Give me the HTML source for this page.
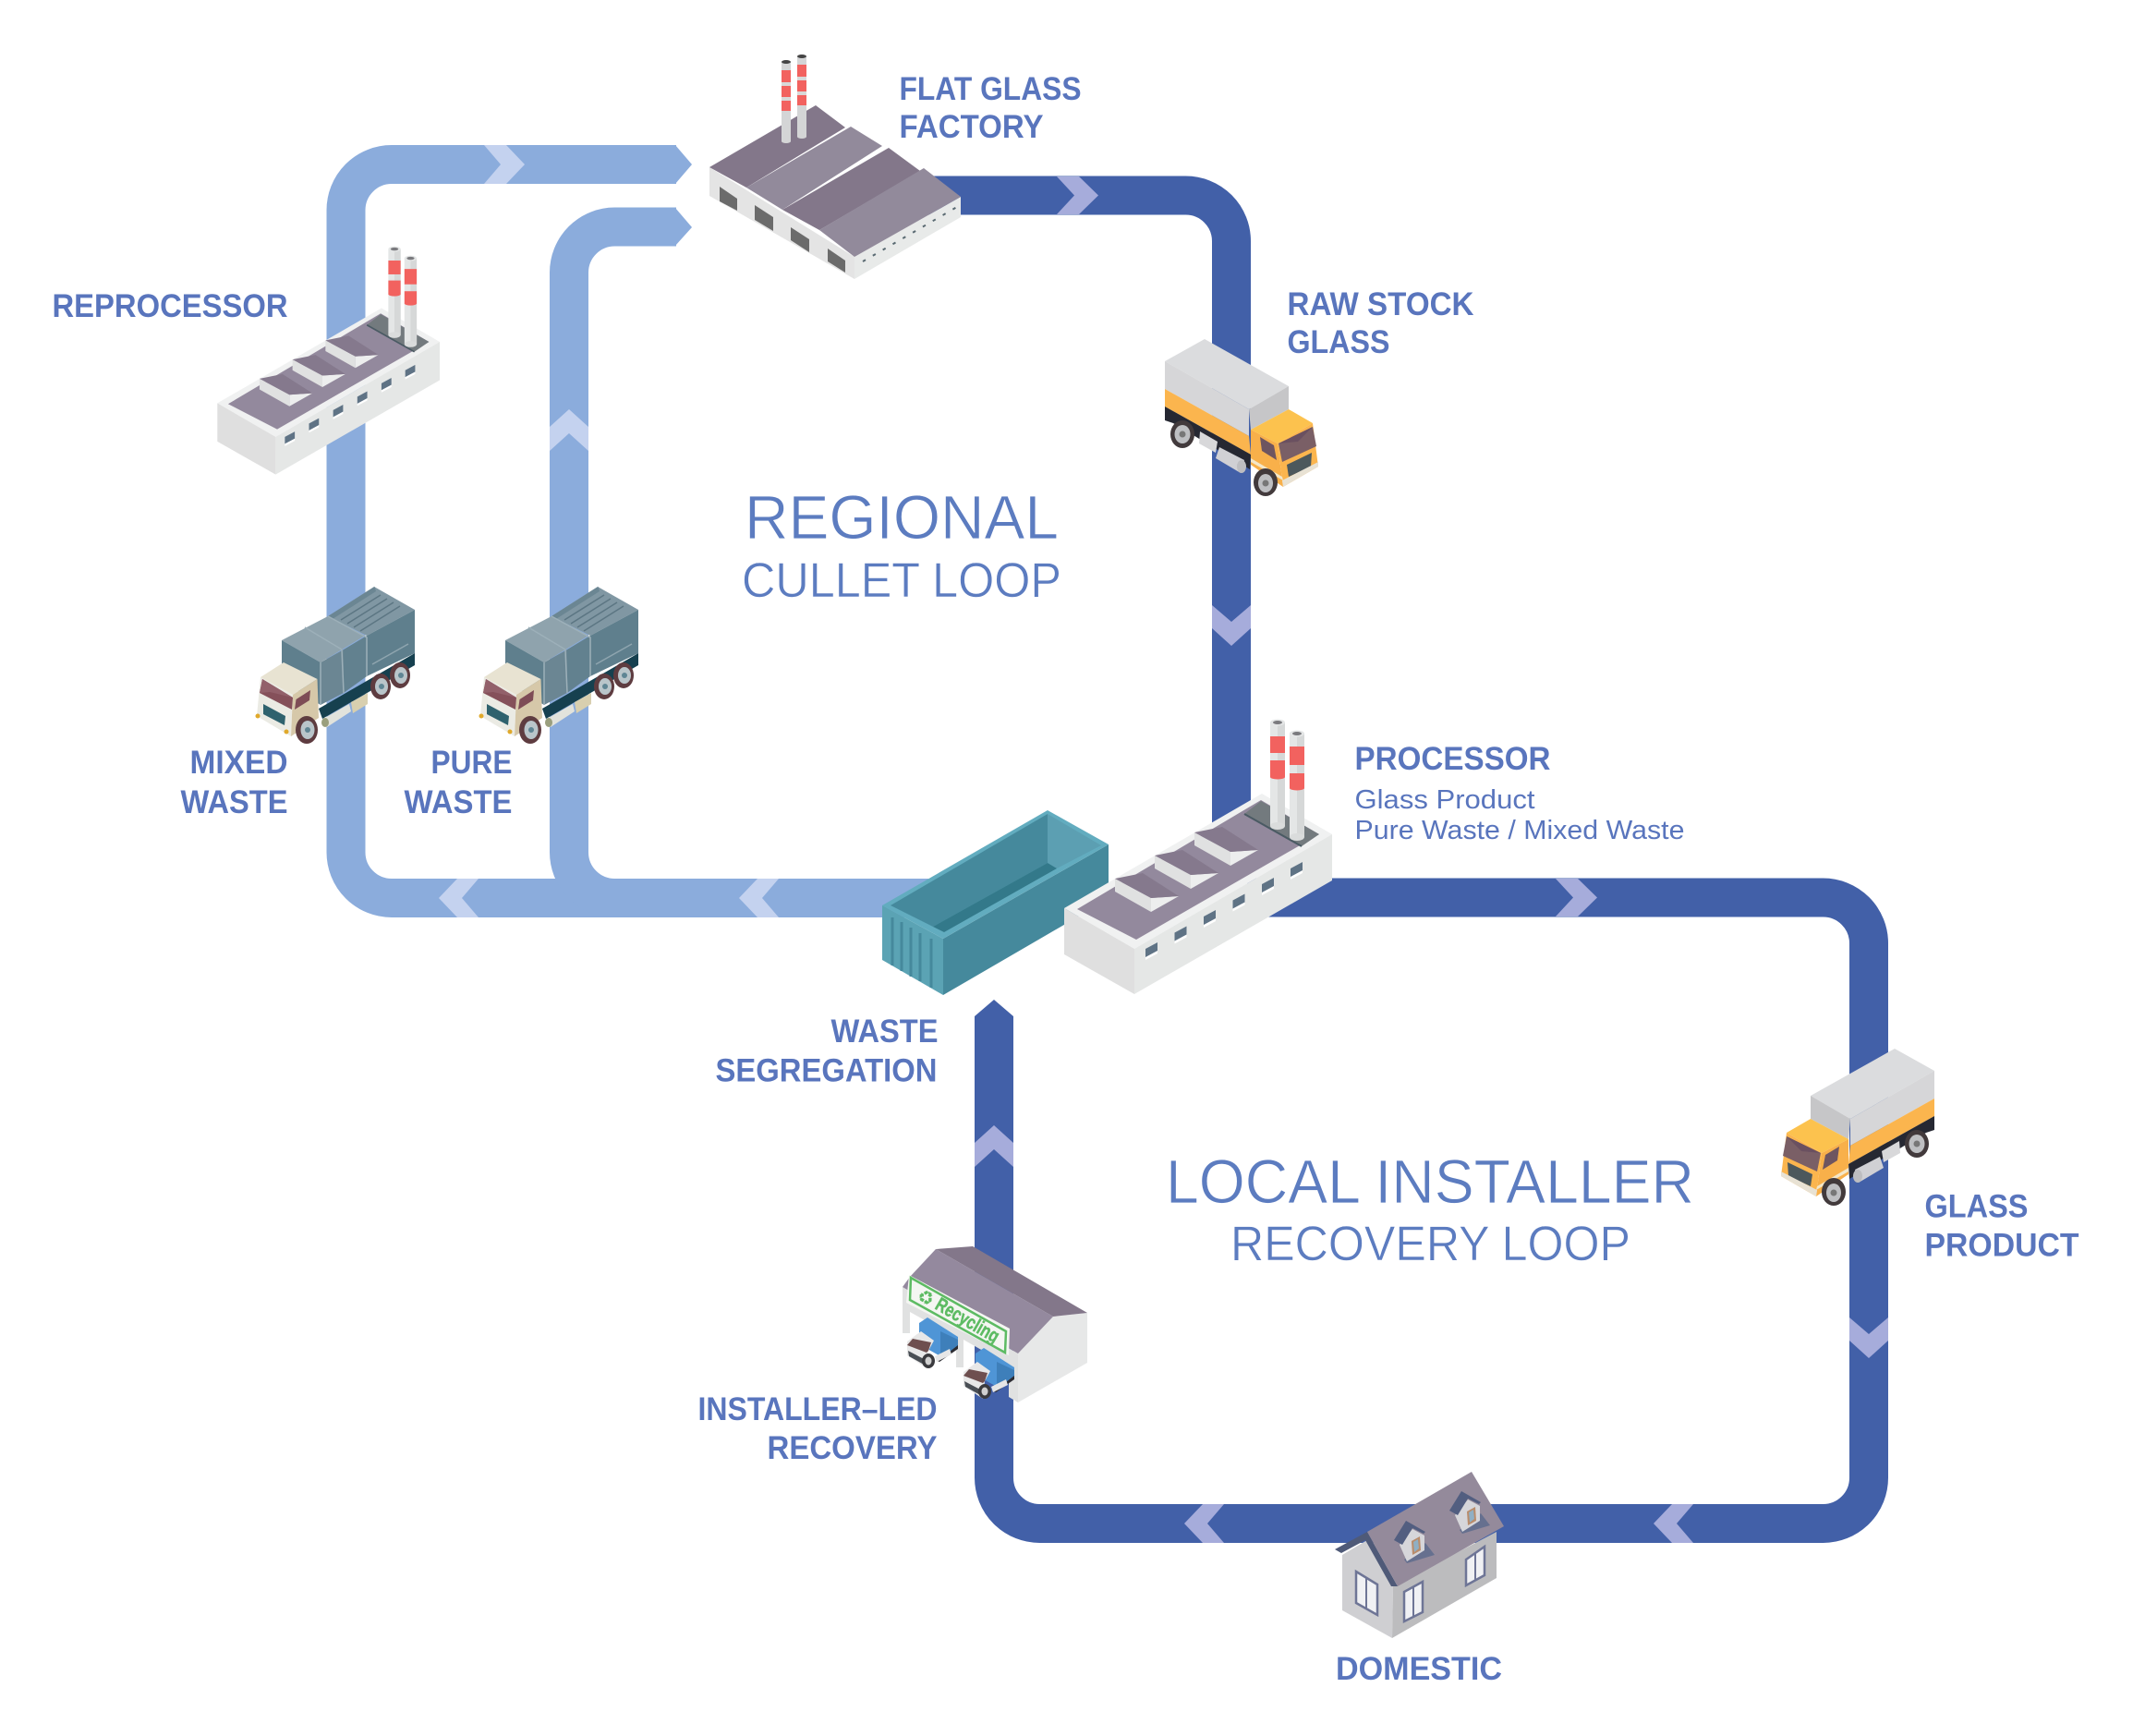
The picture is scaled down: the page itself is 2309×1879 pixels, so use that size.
<!DOCTYPE html>
<html><head><meta charset="utf-8"><style>
html,body{margin:0;padding:0;background:#fff}
svg{display:block}
.l{font:bold 35px "Liberation Sans",sans-serif;fill:#5975BD}
.s{font:29px "Liberation Sans",sans-serif;fill:#5975BD}
.b{font:67px "Liberation Sans",sans-serif;fill:#5C7CC0;stroke:#fff;stroke-width:.8;paint-order:normal}
.c{font:53px "Liberation Sans",sans-serif;fill:#5C7CC0;stroke:#fff;stroke-width:.6}
</style></head><body>
<svg xmlns="http://www.w3.org/2000/svg" width="2309" height="1879" viewBox="0 0 2309 1879">
<defs>
<g id="chim">
<rect x="0" y="0" width="16" height="112" fill="#E4E6E6"/><rect x="8" y="0" width="8" height="112" fill="#D6D8D8"/>
<ellipse cx="8" cy="112" rx="8" ry="4" fill="#DADCDC"/>
<ellipse cx="8" cy="0" rx="8" ry="3.5" fill="#E4E6E6"/><ellipse cx="8" cy="0" rx="5" ry="2" fill="#7A7A7E"/>
</g>
<g id="skyl">
<polygon points="1207,951 1207,965 1246,987 1246,972" fill="#E0E1E1"/>
<polygon points="1246,972 1246,987 1276,970" fill="#EDEEEE"/>
<polygon points="1207,951 1237,945 1276,970 1246,972" fill="#85798D"/>
</g>
<g id="win"><polygon points="1240,1027 1253,1020 1253,1032 1240,1039" fill="#fff"/><polygon points="1240,1027 1253,1020 1253,1029 1240,1036" fill="#5F7385"/></g>
<g id="proc">
<polygon points="1152,983 1366,859 1442,903 1228,1027" fill="#F0F1F1"/>
<polygon points="1152,983 1228,1027 1228,1076 1152,1033" fill="#DFDFDF"/>
<polygon points="1228,1027 1442,903 1442,953 1228,1076" fill="#E5E7E6"/>
<polygon points="1166,984 1365,866 1428,903 1230,1017" fill="#93899D"/>
<polygon points="1347,881 1365,867 1428,903 1409,916" fill="#737A7E"/>
<line x1="1347" y1="881" x2="1409" y2="916" stroke="#4A5A63" stroke-width="2"/>
<use href="#skyl"/><use href="#skyl" x="43" y="-25"/><use href="#skyl" x="86" y="-50"/>
<use href="#win"/><use href="#win" x="31.5" y="-17.5"/><use href="#win" x="63" y="-35"/><use href="#win" x="94.5" y="-52.5"/><use href="#win" x="126" y="-70"/><use href="#win" x="157" y="-87"/>
<use href="#chim" x="1375" y="782"/>
<rect x="1375" y="797" width="16" height="18" fill="#F2625F"/><rect x="1375" y="823" width="16" height="18" fill="#F2625F"/><ellipse cx="1383" cy="841" rx="8" ry="2.5" fill="#F2625F"/>
<use href="#chim" x="1396" y="794"/>
<rect x="1396" y="808" width="16" height="20" fill="#F2625F"/><rect x="1396" y="837" width="16" height="16" fill="#F2625F"/><ellipse cx="1404" cy="853" rx="8" ry="2.5" fill="#F2625F"/>
</g>
<g id="ytruck">
<polygon points="1261,391 1304,367 1395,418 1352,443" fill="#DBDCDE"/>
<polygon points="1261,391 1352,443 1352,472 1261,421" fill="#D6D6D8"/>
<polygon points="1261,421 1352,472 1354,492 1261,440" fill="#FBB54E"/>
<polygon points="1261,440 1354,492 1353,508 1330,494 1270,458 1261,455" fill="#262832"/>
<polygon points="1352,443 1395,418 1395,443 1354,465" fill="#C6C6C8"/>
<polygon points="1299,467 1318,478 1316,490 1298,480" fill="#D8D8DA"/>
<polygon points="1320,484 1347,498 1343,512 1316,496" fill="#D0D0D4"/>
<ellipse cx="1344" cy="505" rx="5" ry="7" fill="#BDBDC0"/>
<ellipse cx="1280" cy="470" rx="13" ry="15" fill="#423A3C"/><ellipse cx="1280" cy="470" rx="8.500" ry="10" fill="#BEBFC2"/><circle cx="1280" cy="470" r="3.500" fill="#777"/>
<polygon points="1354,465 1395,443 1421,458 1383,480" fill="#FCC24E"/>
<polygon points="1354,465 1383,480 1389,527 1354,503" fill="#F8B04A"/>
<polygon points="1383,480 1421,458 1427,505 1389,527" fill="#FBB54E"/>
<polygon points="1384,480 1421,462 1425,483 1388,500" fill="#7A5F66"/>
<polygon points="1384,480 1421,462 1405,478" fill="#6A5060"/>
<polygon points="1393,503 1420,490 1419,505 1395,516" fill="#4C585C"/>
<polygon points="1364,473 1379,482 1382,498 1366,488" fill="#6E5560"/>
<polygon points="1354,496 1388,516 1389,520 1354,500" fill="#F4E7C8"/>
<polygon points="1389,527 1427,505 1427,500 1388,520" fill="#E8E2D4"/>
<ellipse cx="1370" cy="522" rx="13" ry="15" fill="#423A3C"/><ellipse cx="1370" cy="523" rx="8" ry="10" fill="#BEBFC2"/><circle cx="1370" cy="523" r="3.500" fill="#777"/>
</g>
<g id="gtruck">
<polygon points="355,667 405,635 449,660 397,688" fill="#8097A3"/>
<polygon points="355,667 405.500,635 407,640 360,670" fill="#6B8693"/>
<g stroke="#5C7683" stroke-width="1.5"><line x1="369" y1="671" x2="412" y2="644"/><line x1="376" y1="675" x2="419" y2="648"/><line x1="383" y1="679" x2="426" y2="652"/><line x1="390" y1="683" x2="433" y2="656"/></g>
<polygon points="397,688 449,660 449,707 397,732" fill="#5F7F8D"/>
<line x1="403" y1="719" x2="442" y2="697" stroke="#8FA5AF" stroke-width="1.5"/>
<polygon points="305,693 355,667 395,688 347,717" fill="#8FA3AD"/>
<polygon points="305,693 347,717 347,763 305,737" fill="#5F7F8D"/>
<polygon points="347,717 372,703 372,750 347,763" fill="#6B8693"/>
<polygon points="372,703 397,688 397,732 372,750" fill="#62818F"/>
<g stroke="#9DB0B9" stroke-width="1.500" fill="none"><polyline points="330,679 370,703 372,750"/><polyline points="355,667 397,690 397,732"/><line x1="347" y1="717" x2="347" y2="763"/></g>
<polygon points="345,767 449,707 449,720 349,778" fill="#16404F"/>
<polygon points="380,760 398,750 398,762 382,772" fill="#D8CFAF"/>
<polygon points="350,778 378,762 380,770 354,787" fill="#E2E3DC"/><ellipse cx="352" cy="782" rx="4" ry="5" fill="#9A9F7E"/>
<ellipse cx="433" cy="731" rx="11" ry="14" fill="#5E3C40"/><ellipse cx="434" cy="731" rx="7" ry="9" fill="#B9C5CA"/><circle cx="434" cy="731" r="3" fill="#5F8594"/>
<ellipse cx="412" cy="743" rx="11" ry="14" fill="#5E3C40"/><ellipse cx="413" cy="743" rx="7" ry="9" fill="#B9C5CA"/><circle cx="413" cy="743" r="3" fill="#5F8594"/>
<polygon points="282,733 307,717 343.500,735 317,752" fill="#E8E3D2"/>
<polygon points="282,733 317,752 315,797 278,775" fill="#EBEBE4"/>
<polygon points="317,752 343.500,735 345,777 315,797" fill="#D6C8A9"/>
<polygon points="284,735 317,755 316,768 281,750" fill="#85505A"/>
<polygon points="284,735 317,755 292,749 281,750" fill="#92606A"/>
<polygon points="285,762 309,775 308,785 285,773" fill="#2F626E"/>
<polygon points="320.500,757 336,747 335,758 319,768" fill="#7E4C56"/>
<ellipse cx="332" cy="790" rx="12" ry="15" fill="#5E3C40"/><ellipse cx="333" cy="790" rx="7.500" ry="10" fill="#B9C5CA"/><circle cx="333" cy="790" r="3" fill="#5F8594"/>
<circle cx="279" cy="775" r="2.500" fill="#E0A92B"/><circle cx="310" cy="792" r="2.500" fill="#E0A92B"/>
</g>
<g id="mini">
<polygon points="995,1432 1004,1426 1037,1447 1037,1458 1018,1468 995,1455" fill="#4F95D6"/>
<polygon points="1018,1441 1037,1450 1037,1458 1018,1468" fill="#3E7FBA"/>
<polygon points="1015,1473 1037,1456 1037,1460 1017,1474" fill="#2D2D33"/>
<polygon points="1012,1468 1028,1460 1030,1466 1014,1474" fill="#E6E6E6"/>
<polygon points="982,1452 997,1441 1011,1451 1005,1462 1003,1481 982,1467" fill="#E8E8E8"/>
<polygon points="982,1456 1003,1464 1005,1462 1008,1453 988,1449" fill="#6E4F4F"/>
<polygon points="983,1462 1002,1472 1002,1478 984,1468" fill="#4A4F55"/>
<ellipse cx="1005" cy="1473" rx="7" ry="8" fill="#3A3A3E"/><ellipse cx="1005" cy="1473" rx="3.500" ry="4.500" fill="#D0D0D0"/>
</g>
<g id="dorm">
<polygon points="1543,1670 1553,1683 1523,1692 1520,1688" fill="#66708F"/>
<polygon points="1515,1672 1529,1655 1542,1662 1542,1678 1523,1690" fill="#D6D6DA"/>
<polygon points="1528,1668 1537,1663 1538,1678 1529,1683" fill="#B98C6B"/>
<polygon points="1530,1669 1535,1666 1536,1676 1531,1680" fill="#8FAFC4"/>
<polygon points="1509,1667 1522,1646 1543,1658 1541,1660 1529,1654 1518,1672" fill="#525E80"/>
</g>
</defs>

<g fill="none" stroke="#8BACDC" stroke-width="42">
<path d="M732 178H424A49.500 49.500 0 0 0 374.500 227.500V922.500A49.500 49.500 0 0 0 424 972H1005"/>
<path d="M732 245.500H665.500A49.500 49.500 0 0 0 616 295V922.500A49.500 49.500 0 0 0 665.500 972"/>
</g>
<polygon points="731,157 749,178 731,199" fill="#8BACDC"/>
<polygon points="731,225 749,246 731,266" fill="#8BACDC"/>
<g fill="#C4D2EF">
<polygon points="524,157 548,157 568,178 548,199 524,199 542,178"/>
<polygon points="595,462 616,443 637,462 637,488 616,469 595,488"/>
<polygon points="495,951 518,951 500,972 518,993 495,993 475,972"/>
<polygon points="820,951 843,951 825,972 843,993 820,993 800,972"/>
</g>
<g fill="none" stroke="#4260A8" stroke-width="42">
<path d="M1000 211.500H1283.500A49.500 49.500 0 0 1 1333 261V930"/>
<path d="M1350 971.500H1973.500A49.500 49.500 0 0 1 2023 1021V1599.500A49.500 49.500 0 0 1 1973.500 1649H1125.500A49.500 49.500 0 0 1 1076 1599.500V1100"/>
</g>
<polygon points="1055,1100 1076,1082 1097,1100" fill="#4260A8"/>
<g fill="#A6ACDB">
<polygon points="1144,191 1168,191 1189,211.500 1168,232 1144,232 1163,211.500"/>
<polygon points="1684,951 1708,951 1729,971.500 1708,992 1684,992 1703,971.500"/>
<polygon points="1312,655 1333,673 1354,655 1354,680 1333,699 1312,680"/>
<polygon points="2002,1426 2023,1444 2044,1426 2044,1451 2023,1470 2002,1451"/>
<polygon points="1055,1237 1076,1218 1097,1237 1097,1263 1076,1244 1055,1263"/>
<polygon points="1810,1628 1833,1628 1815,1649 1833,1670 1810,1670 1790,1649"/>
<polygon points="1302,1628 1325,1628 1307,1649 1325,1670 1302,1670 1282,1649"/>
</g>

<!-- flat glass factory -->
<polygon points="768,181 925,278 925,302 768,212" fill="#E4E4E4"/>
<polygon points="925,278 1040,213 1040,235 925,302" fill="#E8EAE9"/>
<polygon points="768,181 883,114 915,138 808,203" fill="#83778A"/>
<polygon points="808,203 921,137 955,158 847,227" fill="#928A9B"/>
<polygon points="847,227 962,160 996,185 887,249" fill="#83778A"/>
<polygon points="887,249 1000,182 1040,213 925,278" fill="#928A9B"/>
<g fill="#6B6B6B">
<polygon points="779,202 798,215 798,228 779,218"/><polygon points="817,222 837,235 837,250 817,238"/>
<polygon points="856,246 876,259 876,273 856,260"/><polygon points="896,269 915,282 915,295 896,283"/>
</g>
<g stroke="#5A6A72" stroke-width="2" stroke-dasharray="3.500 9"><line x1="934" y1="283" x2="1036" y2="224"/></g>
<rect x="846" y="67" width="10" height="86" fill="#D4D5D6"/><ellipse cx="851" cy="153" rx="5" ry="2" fill="#D4D5D6"/><ellipse cx="851" cy="67" rx="5" ry="2" fill="#444"/>
<rect x="846" y="76" width="10" height="44" fill="#F2625F"/><rect x="846" y="89" width="10" height="4" fill="#D8D8D8"/><rect x="846" y="105" width="10" height="4" fill="#D8D8D8"/>
<rect x="863" y="61" width="10" height="87" fill="#D4D5D6"/><ellipse cx="868" cy="148" rx="5" ry="2" fill="#D4D5D6"/><ellipse cx="868" cy="61" rx="5" ry="2" fill="#444"/>
<rect x="863" y="70" width="10" height="44" fill="#F2625F"/><rect x="863" y="83" width="10" height="4" fill="#D8D8D8"/><rect x="863" y="99" width="10" height="4" fill="#D8D8D8"/>

<!-- reprocessor -->
<use href="#proc" transform="translate(-720.86,-379.49) scale(.83)"/>

<!-- trucks -->
<use href="#ytruck"/>
<use href="#ytruck" transform="matrix(-1 0 0 1 3355 768)"/>
<use href="#gtruck"/>
<use href="#gtruck" x="242"/>

<!-- container -->
<polygon points="955,980 1021,1016 1021,1077 955,1039" fill="#5BA3B4"/>
<polygon points="1021,1016 1200,914 1200,973 1021,1077" fill="#45899C"/>
<polygon points="955,980 1134,877 1200,914 1021,1016" fill="#62ACBF"/>
<polygon points="964,980 1134,881 1134,934 1010,1003" fill="#45899C"/>
<polygon points="1134,881 1192,915 1144,940 1134,934" fill="#5C9FB2"/>
<polygon points="1134,934 1144,940 1022,1009 1010,1003" fill="#33798A"/>
<g stroke="#45899C" stroke-width="3"><line x1="966" y1="993" x2="966" y2="1045"/><line x1="976" y1="998" x2="976" y2="1051"/><line x1="986" y1="1004" x2="986" y2="1057"/><line x1="996" y1="1010" x2="996" y2="1062"/><line x1="1008" y1="1016" x2="1008" y2="1069"/></g>

<use href="#proc"/>

<!-- recycling -->
<polygon points="1102,1465 1140,1425 1177,1421 1177,1475 1102,1518" fill="#E7E8E8"/>
<polygon points="977,1393 1102,1465 1102,1518 1092,1512 1092,1478 1043,1450 1043,1480 1035,1480 1035,1448 985,1420 985,1443 977,1443" fill="#E0E1E1"/>
<polygon points="1013,1352 1053,1349 1177,1421 1140,1425" fill="#83778A"/>
<polygon points="1013,1352 1140,1425 1102,1465 977,1393 985,1382" fill="#94899E"/>
<use href="#mini"/><use href="#mini" x="61" y="33"/>
<polygon points="984,1380 1093,1438 1092,1467 981,1410" fill="#F4F6F2"/>
<polygon points="986,1383 1089,1441 1088,1464 985,1407" fill="none" stroke="#5DBB63" stroke-width="2.500"/>
<text transform="translate(1011,1416) rotate(30)" style="font:bold 21px 'Liberation Sans',sans-serif" fill="#5DBB63" stroke="#5DBB63" stroke-width=".5" textLength="76" lengthAdjust="spacingAndGlyphs">Recycling</text>
<text transform="translate(991,1406) rotate(30)" style="font:20px 'DejaVu Sans',sans-serif" fill="#5DBB63">♻</text>

<!-- house -->
<polygon points="1453,1683 1480,1667 1508,1717 1507,1773 1453,1743" fill="#CFCFD2"/>
<polygon points="1508,1717 1620,1658 1620,1708 1507,1773" fill="#BCBCBE"/>
<polygon points="1445,1677 1480,1658 1513,1717 1506,1717 1478,1667 1452,1681" fill="#4F5A78"/>
<polygon points="1480,1658 1593,1593 1628,1652 1513,1717" fill="#948A9B"/>
<g fill="#F0F1F4" stroke="#6E7596" stroke-width="2.500">
<polygon points="1468,1701 1491,1715 1491,1748 1468,1735"/>
<polygon points="1520,1723 1540,1712 1540,1745 1520,1755"/>
<polygon points="1587,1688 1607,1674 1607,1705 1587,1716"/>
</g>
<g stroke="#6E7596" stroke-width="2"><line x1="1479" y1="1708" x2="1479" y2="1741"/><line x1="1530" y1="1718" x2="1530" y2="1750"/><line x1="1597" y1="1681" x2="1597" y2="1710"/></g>
<use href="#dorm"/>
<use href="#dorm" x="60" y="-32"/>

<!-- labels -->
<g class="l">
<text class="l" x="973.500" y="108" textLength="197" lengthAdjust="spacingAndGlyphs">FLAT GLASS</text>
<text class="l" x="973.500" y="149" textLength="156" lengthAdjust="spacingAndGlyphs">FACTORY</text>
<text class="l" x="56.500" y="343" textLength="255" lengthAdjust="spacingAndGlyphs">REPROCESSOR</text>
<text class="l" x="1393.500" y="341" textLength="202" lengthAdjust="spacingAndGlyphs">RAW STOCK</text>
<text class="l" x="1393.500" y="382" textLength="111" lengthAdjust="spacingAndGlyphs">GLASS</text>
<text class="l" x="205.500" y="837" textLength="106" lengthAdjust="spacingAndGlyphs">MIXED</text>
<text class="l" x="195.500" y="880" textLength="116" lengthAdjust="spacingAndGlyphs">WASTE</text>
<text class="l" x="466.500" y="837" textLength="88" lengthAdjust="spacingAndGlyphs">PURE</text>
<text class="l" x="437.500" y="880" textLength="117" lengthAdjust="spacingAndGlyphs">WASTE</text>
<text class="l" x="1466.500" y="833" textLength="212" lengthAdjust="spacingAndGlyphs">PROCESSOR</text>
<text class="l" x="899.500" y="1128" textLength="116" lengthAdjust="spacingAndGlyphs">WASTE</text>
<text class="l" x="774.500" y="1170.500" textLength="240" lengthAdjust="spacingAndGlyphs">SEGREGATION</text>
<text class="l" x="755.500" y="1537" textLength="259" lengthAdjust="spacingAndGlyphs">INSTALLER–LED</text>
<text class="l" x="830.500" y="1579" textLength="184" lengthAdjust="spacingAndGlyphs">RECOVERY</text>
<text class="l" x="2083.500" y="1317.500" textLength="112" lengthAdjust="spacingAndGlyphs">GLASS</text>
<text class="l" x="2083.500" y="1359.500" textLength="167" lengthAdjust="spacingAndGlyphs">PRODUCT</text>
<text class="l" x="1446" y="1818" textLength="180" lengthAdjust="spacingAndGlyphs">DOMESTIC</text>
</g>
<text class="s" x="1466.500" y="875" textLength="195" lengthAdjust="spacingAndGlyphs">Glass Product</text>
<text class="s" x="1466.500" y="908" textLength="357" lengthAdjust="spacingAndGlyphs">Pure Waste / Mixed Waste</text>
<text class="b" x="806" y="583" textLength="340" lengthAdjust="spacingAndGlyphs">REGIONAL</text>
<text class="c" x="803" y="646" textLength="346" lengthAdjust="spacingAndGlyphs">CULLET LOOP</text>
<text class="b" x="1262" y="1302" textLength="572" lengthAdjust="spacingAndGlyphs">LOCAL INSTALLER</text>
<text class="c" x="1332" y="1364" textLength="433" lengthAdjust="spacingAndGlyphs">RECOVERY LOOP</text>
</svg>
</body></html>
